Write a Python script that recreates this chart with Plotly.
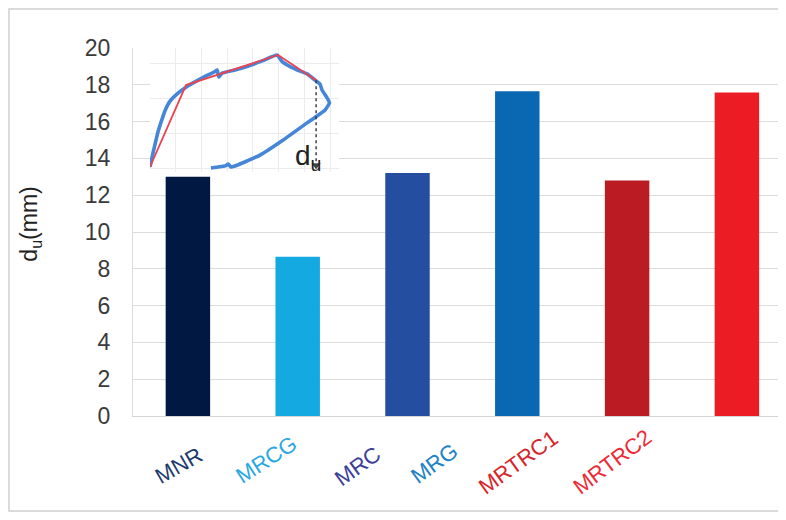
import plotly.graph_objects as go

# ---------------- data ----------------
categories = ["MNR", "MRCG", "MRC", "MRG", "MRTRC1", "MRTRC2"]
du_values = [13.0, 8.65, 13.2, 17.65, 12.8, 17.58]
y_ticks = [0, 2, 4, 6, 8, 10, 12, 14, 16, 18, 20]

# inset (load–displacement sketch) in inset units
inset_blue_x = [0.0, 0.08, 0.19, 0.31, 0.43, 0.58, 0.78, 1.09, 1.40, 1.87, 2.26, 2.53, 2.61,
                2.68, 2.80, 3.31, 3.77, 4.36, 4.94, 5.14, 5.45, 5.84, 6.11, 6.42, 6.61,
                6.69, 6.89, 6.98, 6.81, 6.11, 5.18, 4.28, 3.77, 3.42, 3.15, 3.04, 2.92,
                2.65, 2.37]
inset_blue_y = [0.03, 0.31, 0.66, 1.03, 1.31, 1.63, 1.91, 2.14, 2.31, 2.51, 2.66, 2.76, 2.80,
                2.60, 2.71, 2.80, 2.90, 3.06, 3.23, 3.04, 2.90, 2.77, 2.69, 2.51, 2.40,
                2.23, 2.00, 1.86, 1.66, 1.29, 0.80, 0.37, 0.20, 0.09, 0.03, 0.11, 0.06,
                0.03, 0.00]
inset_red_x = [0.0, 1.40, 4.98, 6.46]
inset_red_y = [0.03, 2.37, 3.23, 2.51]
du_marker_x = [6.46, 6.46]
du_marker_y = [2.51, 0.08]

# ---------------- styles ----------------
bar_colors = ["#011843", "#15a9e1", "#244fa0", "#0a68b3", "#bb1c23", "#ec1c24"]
label_colors = ["#1e3a6c", "#2aa8df", "#3d3f98", "#1f82c4", "#d6262d", "#ee2a36"]
label_xshift = [-9, -31, -50, -83, -109, -124]
label_yshift = [-2, 4, -3, 0, 1, 2]
label_angle = [-30, -33, -36, -36, -36, -37]

FONT = "Liberation Sans, Arial, sans-serif"
PX_PER_CAT = 109.8
PLOT_LEFT = 125
FIG_W, FIG_H = 770, 504

fig = go.Figure()

fig.add_trace(go.Bar(
    x=categories, y=du_values, marker=dict(color=bar_colors, line=dict(width=0)),
    width=0.405, xaxis="x", yaxis="y", showlegend=False,
))

# inset traces
fig.add_trace(go.Scatter(
    x=inset_blue_x, y=inset_blue_y, mode="lines",
    line=dict(color="#4586d8", width=3.6, shape="spline", smoothing=0.4),
    xaxis="x2", yaxis="y2", showlegend=False, cliponaxis=False,
))
fig.add_trace(go.Scatter(
    x=inset_red_x, y=inset_red_y, mode="lines",
    line=dict(color="#ec4350", width=1.8),
    xaxis="x2", yaxis="y2", showlegend=False, cliponaxis=False,
))
fig.add_trace(go.Scatter(
    x=du_marker_x, y=du_marker_y, mode="lines",
    line=dict(color="#333333", width=1.4, dash="dot"),
    xaxis="x2", yaxis="y2", showlegend=False, cliponaxis=False,
))
fig.add_trace(go.Scatter(
    x=du_marker_x[-1:], y=du_marker_y[-1:], mode="markers",
    marker=dict(symbol="triangle-down", size=8, color="#444444"),
    xaxis="x2", yaxis="y2", showlegend=False, cliponaxis=False,
))

plot_w = FIG_W - PLOT_LEFT

def px_to_paper_x(px_fig):
    return (px_fig - PLOT_LEFT) / plot_w

annotations = []
for i, cat in enumerate(categories):
    annotations.append(dict(
        x=cat, y=-0.1304, xref="x", yref="paper", text=cat, showarrow=False,
        xanchor="center", yanchor="middle", textangle=label_angle[i],
        xshift=label_xshift[i], yshift=label_yshift[i],
        font=dict(family=FONT, size=22, color=label_colors[i]),
    ))
annotations.append(dict(
    x=px_to_paper_x(23), y=0.52, xref="paper", yref="paper", text="d<sub>u</sub>(mm)",
    showarrow=False, textangle=-90, xanchor="center", yanchor="middle",
    font=dict(family=FONT, size=23, color="#222222"),
))
annotations.append(dict(
    x=5.55, y=0.3, xref="x2", yref="y2", text="d<sub>u</sub>",
    showarrow=False, xanchor="left", yanchor="middle",
    font=dict(family=FONT, size=28, color="#222222"),
))

fig.update_layout(
    width=FIG_W, height=FIG_H,
    margin=dict(l=PLOT_LEFT, r=0, t=40, b=96),
    paper_bgcolor="white", plot_bgcolor="white",
    bargap=0.6,
    xaxis=dict(domain=[0, 1], range=[-0.5, -0.5 + plot_w / PX_PER_CAT], type="category",
               categoryorder="array", categoryarray=categories,
               showticklabels=False, showgrid=False, zeroline=False,
               showline=True, linecolor="#d4d4d4", linewidth=1, ticks=""),
    yaxis=dict(domain=[0, 1], range=[0, 20], tickvals=y_ticks,
               showgrid=True, gridcolor="#dcdcdc", gridwidth=1, zeroline=False,
               showline=True, linecolor="#dcdcdc", linewidth=1, ticks="",
               ticklabelstandoff=17,
               tickfont=dict(family=FONT, size=23, color="#3a3a3a")),
    xaxis2=dict(domain=[px_to_paper_x(142), px_to_paper_x(331)], range=[0, 7.35], anchor="y2",
                dtick=1, tick0=0, showticklabels=False, showgrid=True,
                gridcolor="#ececec", zeroline=False, showline=False, ticks=""),
    yaxis2=dict(domain=[0.6644, 1.0], range=[-0.1, 3.43], anchor="x2",
                dtick=1, tick0=0, showticklabels=False, showgrid=True,
                gridcolor="#ececec", zeroline=False, showline=False, ticks=""),
    annotations=annotations,
    shapes=[dict(type="rect", xref="paper", yref="paper",
                 x0=px_to_paper_x(1), x1=1.1, y0=-0.2582, y1=1.106,
                 line=dict(color="#d0d0d0", width=1.5), fillcolor="rgba(0,0,0,0)",
                 layer="below")],
)

fig.write_html("out.html")
